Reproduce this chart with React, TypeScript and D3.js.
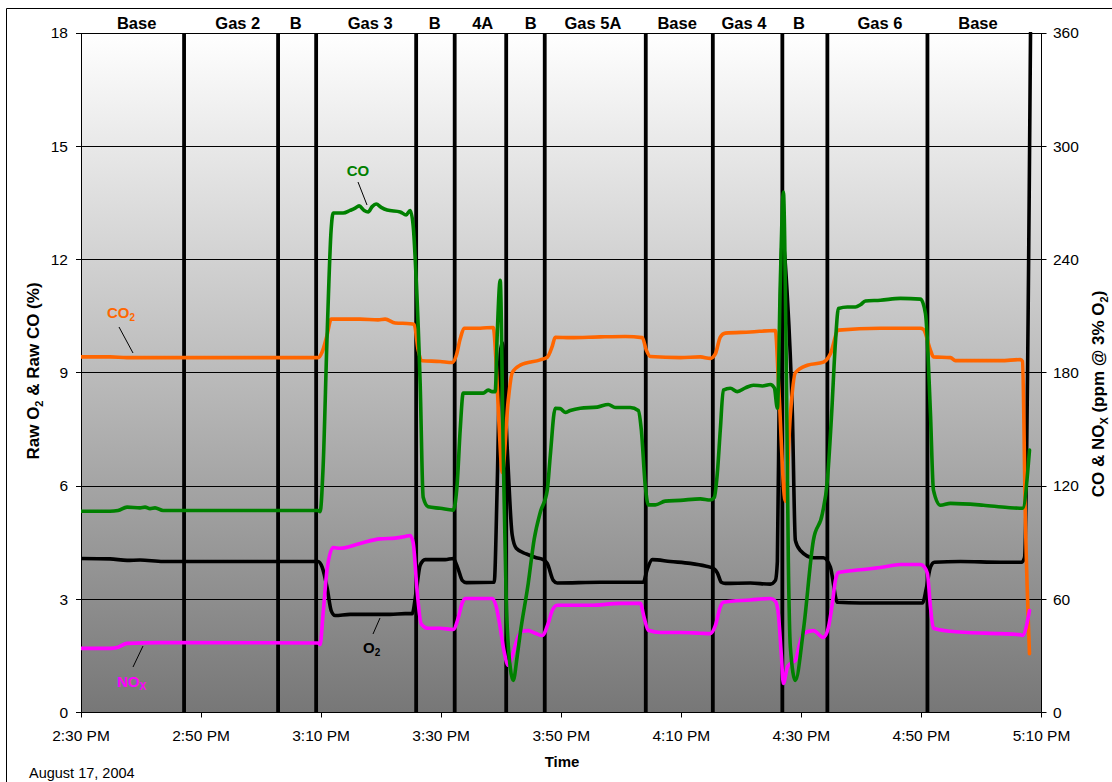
import React from 'react';
import * as d3 from 'd3';

const WIDTH = 1112;
const HEIGHT = 782;

const START = new Date(2004, 7, 17, 14, 30, 0);
const END = new Date(2004, 7, 17, 17, 10, 0);

const leftTicks = [0, 3, 6, 9, 12, 15, 18];
const rightTicks = [0, 60, 120, 180, 240, 300, 360];
const timeTickMinutes = [0, 20, 40, 60, 80, 100, 120, 140, 160];

const phaseNames = ['Base', 'Gas 2', 'B', 'Gas 3', 'B', '4A', 'B', 'Gas 5A', 'Base', 'Gas 4', 'B', 'Gas 6', 'Base'];
const phaseCenters = [9.27, 26.12, 35.75, 48.17, 58.92, 66.92, 74.9, 85.27, 99.3, 110.42, 119.58, 133.08, 149.42];
const phaseBoundaries = [17.17, 32.83, 39.17, 55.83, 62.25, 70.83, 77.25, 94.08, 105.25, 116.83, 124.33, 141];

// [minutes after 2:30 PM, value]
const o2Data: [number, number][] = [
  [0, 4.08], [4.83, 4.07], [7.67, 4.03], [9.83, 4.04], [13.67, 4.0], [19.83, 4.0], [39.5, 4.0], [40.17, 3.85], [41, 3.3],
  [41.67, 2.7], [42.33, 2.57], [44.83, 2.6], [48.17, 2.6], [51.5, 2.6], [54, 2.62], [55.17, 2.62], [55.83, 3.2], [56.5, 3.9],
  [57.33, 4.05], [60.67, 4.05], [62, 4.08], [62.83, 3.8], [63.5, 3.5], [64.17, 3.44], [68.83, 3.45], [69.33, 6.0], [69.83, 9.5],
  [70.17, 9.8], [71, 7.0], [71.83, 4.7], [72.5, 4.35], [74.17, 4.2], [75.83, 4.1], [77, 4.05], [77.67, 3.95], [78.67, 3.5],
  [79.33, 3.43], [86.5, 3.45], [93.67, 3.45], [94.33, 3.8], [95.17, 4.05], [98.17, 4.0], [101.5, 3.95], [104, 3.88],
  [105.33, 3.82], [106, 3.7], [106.67, 3.45], [107.33, 3.42], [111.5, 3.43], [114.83, 3.4], [115.67, 3.5], [116, 4.0],
  [116.33, 8.8], [116.83, 12.5], [117.67, 11.0], [118.5, 7.9], [119, 4.56], [119.83, 4.29], [122, 4.1], [123.67, 4.1],
  [124.83, 3.85], [126, 2.92], [129.83, 2.9], [136.5, 2.9], [140.17, 2.9], [140.83, 3.3], [141.5, 3.85], [142.17, 3.98],
  [146.5, 4.0], [153.17, 3.98], [156.67, 3.98], [157.17, 4.1], [158.17, 18],
];

const co2Data: [number, number][] = [
  [0, 9.42], [4.83, 9.42], [7.67, 9.4], [39.5, 9.4], [40.17, 9.55], [41, 10.0], [41.67, 10.42], [43.17, 10.42], [46.5, 10.42],
  [49.5, 10.4], [50.67, 10.42], [52.33, 10.32], [54.83, 10.3], [55.5, 10.28], [56.17, 9.6], [56.83, 9.32], [59.83, 9.3],
  [61.83, 9.27], [62.5, 9.45], [63.17, 9.9], [63.83, 10.18], [66.5, 10.18], [68.67, 10.2], [69.17, 9.2], [69.67, 7.5],
  [70.17, 6.36], [71.17, 8.27], [71.83, 9.0], [73.17, 9.2], [76.5, 9.34], [77.67, 9.41], [78.5, 9.7], [79, 9.94], [81.5, 9.93],
  [86.5, 9.95], [90.67, 9.96], [93.5, 9.93], [94.17, 9.6], [94.83, 9.43], [99.83, 9.4], [103.17, 9.42], [104.83, 9.38],
  [105.67, 9.5], [106.5, 9.95], [107.33, 10.05], [111.5, 10.08], [115.67, 10.12], [116.17, 8.8], [117.33, 5.6], [118.17, 7.9],
  [119, 9.0], [121, 9.2], [123.67, 9.28], [124.83, 9.5], [126.17, 10.13], [133.17, 10.18], [136.5, 10.18], [139.83, 10.18],
  [140.33, 10.15], [141.5, 9.6], [142, 9.42], [144.83, 9.4], [145.67, 9.32], [150.67, 9.32], [153.17, 9.32], [156.5, 9.35],
  [156.83, 9.3], [157.33, 5.0], [158, 1.56],
];

// ppm, right axis
const coData: [number, number][] = [
  [0, 106.6], [4.83, 106.6], [6.17, 107], [7.67, 108.8], [9.83, 108.4], [10.67, 108.8], [11.5, 108], [12.33, 108.4],
  [13.67, 107], [19.83, 107], [39.5, 107], [39.83, 106.4], [40.33, 130], [41, 200], [41.67, 256], [42, 264.6], [43.67, 264.6],
  [44.83, 266], [45.67, 267.2], [46.33, 268.4], [47.17, 266], [47.83, 265.2], [48.5, 268], [49.17, 269.4], [50, 267.6],
  [51, 266.2], [53.17, 265.2], [54.17, 263.6], [54.83, 266], [55.33, 258], [55.83, 230], [56.5, 174], [57, 114], [57.83, 109],
  [59.83, 108.2], [62, 107.2], [62.67, 121.4], [63.17, 150], [63.67, 169.2], [67, 169.2], [67.83, 170.8], [68.5, 170],
  [69, 170], [69.33, 200], [69.83, 229], [70.33, 140], [70.83, 60], [71.5, 24], [72, 17], [72.67, 30], [73.17, 42],
  [74.5, 68.4], [75.5, 92], [76.5, 106], [77.67, 117.8], [78.17, 136], [79, 161.2], [79.83, 161], [80.67, 159], [81.5, 160],
  [83.17, 161.2], [86, 161.8], [87.83, 163.2], [89, 161.6], [91.5, 161.6], [92.83, 160], [93.33, 150], [94, 120], [94.5, 110],
  [95.67, 110], [97.33, 112], [99.83, 112.4], [103.17, 113.2], [104.83, 112.6], [105.5, 114], [106, 126.8], [106.5, 150],
  [107, 170.8], [108.17, 171.8], [109.33, 170], [110.67, 172], [112, 173.4], [113.5, 173], [114.83, 173.8], [115.5, 172],
  [116, 161.2], [116.5, 229], [117, 275.8], [117.5, 180], [117.83, 80], [118.17, 34.4], [119, 17], [120.33, 43.4], [122, 91.2],
  [123.5, 105.4], [124.33, 123], [125, 156], [125.67, 196], [126.17, 214], [127.67, 214.8], [129, 214.8], [129.83, 216],
  [130.67, 218], [133.17, 218.4], [136.5, 219.4], [139.83, 219], [140.67, 211.4], [141.5, 158.6], [142, 117.8], [143.17, 109.8],
  [144.83, 110.8], [150.33, 109.8], [154.33, 108.6], [156.83, 108.2], [158, 139],
];

const noxData: [number, number][] = [
  [0, 34], [4.83, 34], [6.17, 34.6], [7.67, 36.6], [13.17, 37], [39.5, 36.8], [39.83, 36], [40.33, 52.4], [41, 76], [42, 87.4],
  [43.17, 87], [46.5, 89.6], [49.83, 92], [52.33, 92.4], [54, 93.2], [54.83, 93.8], [55.33, 90], [56, 64], [56.67, 47],
  [57.83, 44.6], [59.83, 44.6], [62, 44], [62.83, 50], [63.5, 58], [64, 60.4], [68.5, 60.4], [69.17, 56], [69.67, 48],
  [70.5, 32], [71.17, 25], [71.83, 30], [72.67, 39], [73.5, 43], [74.5, 43.4], [75.67, 42], [76.83, 40.8], [77.83, 47.2],
  [78.5, 54], [79.33, 56.8], [84.83, 56.8], [89.83, 57.8], [93.17, 57.8], [93.83, 50], [94.5, 43.6], [96.5, 42.4],
  [99.83, 42.4], [103.17, 42], [104.83, 41.8], [105.67, 46], [106.5, 56], [107, 58.4], [111.5, 59.6], [114.83, 60.4],
  [115.67, 59], [116.17, 52], [116.67, 30], [117, 15.4], [117.67, 24], [118.17, 26], [119, 27.6], [119.67, 36], [120.33, 41.8],
  [122, 43.4], [123.67, 39.8], [124.5, 45], [125.17, 58], [125.67, 70], [126.17, 74.2], [129.83, 75.6], [133.17, 76.8],
  [136.5, 78.4], [139.83, 78.4], [140.5, 77], [141, 73.6], [141.5, 56], [142, 44.6], [144.83, 43], [147.67, 42.4],
  [153.17, 41.8], [156.5, 41.2], [156.83, 40.8], [158, 54],
];

const toDate = (m: number) => new Date(START.getTime() + m * 60000);

const PL = 81;
const PR = 1041.5;
const PT = 33;
const PB = 712.5;

export default function App() {
  const x = d3.scaleTime().domain([START, END]).range([PL, PR]);
  const yL = d3.scaleLinear().domain([0, 18]).range([PB, PT]);
  const yR = d3.scaleLinear().domain([0, 360]).range([PB, PT]);
  const fmt = d3.timeFormat('%-I:%M %p');

  const lineL = d3.line<[number, number]>().x(d => x(toDate(d[0]))).y(d => yL(d[1])).curve(d3.curveMonotoneX);
  const lineR = d3.line<[number, number]>().x(d => x(toDate(d[0]))).y(d => yR(d[1])).curve(d3.curveMonotoneX);

  const font = 'Liberation Sans, Arial, sans-serif';
  const snap = (v: number) => Math.round(v - 0.5) + 0.5;

  return (
    <div style={{ position: 'absolute', left: 0, top: 0 }}>
      <svg width={WIDTH} height={HEIGHT} style={{ display: 'block', fontFamily: font }}>
        <defs>
          <linearGradient id="bg" x1="0" y1="0" x2="0" y2="1">
            <stop offset="0%" stopColor="#ffffff" />
            <stop offset="100%" stopColor="#777777" />
          </linearGradient>
          <clipPath id="plotclip">
            <rect x={PL} y={PT - 1} width={PR - PL} height={PB - PT + 2} />
          </clipPath>
        </defs>
        <rect x={0} y={0} width={WIDTH} height={HEIGHT} fill="#ffffff" />
        {/* outer chart border (top/left visible) */}
        <line x1={6.5} y1={8.5} x2={WIDTH} y2={8.5} stroke="#000" strokeWidth={1} />
        <line x1={6.5} y1={8.5} x2={6.5} y2={HEIGHT} stroke="#000" strokeWidth={1} />

        <rect x={PL} y={PT} width={PR - PL} height={PB - PT} fill="url(#bg)" />

        {/* gridlines */}
        {leftTicks.map(t => (
          <line key={'g' + t} x1={PL} x2={PR} y1={snap(yL(t))} y2={snap(yL(t))} stroke="#000" strokeWidth={1} />
        ))}

        {/* phase separators */}
        {phaseBoundaries.map((m, i) => (
          <line key={'s' + i} x1={x(toDate(m))} x2={x(toDate(m))} y1={PT} y2={PB} stroke="#000" strokeWidth={3.8} />
        ))}

        {/* frame */}
        <line x1={snap(PL)} x2={snap(PL)} y1={PT} y2={PB} stroke="#000" strokeWidth={1} />
        <line x1={snap(PR)} x2={snap(PR)} y1={PT} y2={PB} stroke="#000" strokeWidth={1} />

        {/* series */}
        <g clipPath="url(#plotclip)" fill="none" strokeLinejoin="round" strokeLinecap="round">
          <path d={lineL(o2Data) || ''} stroke="#000000" strokeWidth={3.6} />
          <path d={lineL(co2Data) || ''} stroke="#FF6600" strokeWidth={3.6} />
          <path d={lineR(noxData) || ''} stroke="#FF00FF" strokeWidth={3.6} />
          <path d={lineR(coData) || ''} stroke="#008000" strokeWidth={3.6} />
        </g>

        {/* left axis */}
        {leftTicks.map(t => (
          <g key={'l' + t}>
            <line x1={PL - 5} x2={PL} y1={snap(yL(t))} y2={snap(yL(t))} stroke="#000" />
            <text x={68} y={yL(t) + 5.4} textAnchor="end" fontSize={15.5} fill="#000">{t}</text>
          </g>
        ))}
        {/* right axis */}
        {rightTicks.map(t => (
          <g key={'r' + t}>
            <line x1={PR} x2={PR + 5} y1={snap(yR(t))} y2={snap(yR(t))} stroke="#000" />
            <text x={1053} y={yR(t) + 5.4} textAnchor="start" fontSize={15.5} fill="#000">{t}</text>
          </g>
        ))}
        {/* bottom axis */}
        <line x1={PL} x2={PR} y1={PB} y2={PB} stroke="#000" strokeWidth={1} />
        {timeTickMinutes.map(m => {
          const d = toDate(m);
          const px = snap(x(d));
          return (
            <g key={'t' + m}>
              <line x1={px} x2={px} y1={PB} y2={PB + 5} stroke="#000" />
              <text x={x(d)} y={741} textAnchor="middle" fontSize={15.5} fill="#000">{fmt(d)}</text>
            </g>
          );
        })}

        {/* phase labels */}
        {phaseNames.map((n, i) => (
          <text key={'p' + i} x={x(toDate(phaseCenters[i]))} y={28.5} textAnchor="middle" fontSize={16.5} fontWeight="bold" fill="#000">{n}</text>
        ))}

        {/* axis titles */}
        <text transform="translate(39,371) rotate(-90)" textAnchor="middle" fontSize={17} fontWeight="bold" fill="#000">
          Raw O<tspan fontSize={11} dy={4}>2</tspan><tspan dy={-4}> &amp; Raw CO (%)</tspan>
        </text>
        <text transform="translate(1104,394) rotate(-90)" textAnchor="middle" fontSize={17} fontWeight="bold" fill="#000">
          CO &amp; NO<tspan fontSize={11} dy={4}>X</tspan><tspan dy={-4}> (ppm @ 3% O</tspan><tspan fontSize={11} dy={4}>2</tspan><tspan dy={-4}>)</tspan>
        </text>
        <text x={562} y={767} textAnchor="middle" fontSize={15} fontWeight="bold" fill="#000">Time</text>
        <text x={29} y={778} textAnchor="start" fontSize={14.5} fill="#000">August 17, 2004</text>

        {/* series labels */}
        <text x={358} y={176} textAnchor="middle" fontSize={15} fontWeight="bold" fill="#008000">CO</text>
        <line x1={358} y1={182} x2={367} y2={205} stroke="#000" strokeWidth={1} />

        <text x={107} y={318} fontSize={15} fontWeight="bold" fill="#FF6600">
          CO<tspan fontSize={10} dy={3}>2</tspan>
        </text>
        <line x1={119} y1={327} x2={133} y2={353} stroke="#000" strokeWidth={1} />

        <text x={363} y={653} fontSize={15} fontWeight="bold" fill="#000">
          O<tspan fontSize={10} dy={3}>2</tspan>
        </text>
        <line x1={373} y1={634} x2={380} y2={618} stroke="#000" strokeWidth={1} />

        <text x={117} y={687} fontSize={15} fontWeight="bold" fill="#FF00FF">
          NO<tspan fontSize={10} dy={3}>X</tspan>
        </text>
        <line x1={133} y1={667} x2={143} y2={646} stroke="#000" strokeWidth={1} />
      </svg>
    </div>
  );
}
